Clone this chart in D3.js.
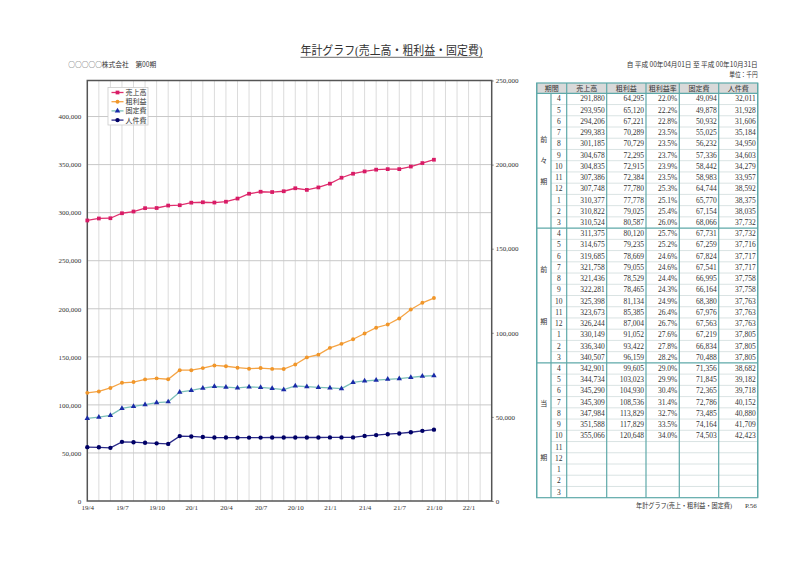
<!DOCTYPE html>
<html><head><meta charset="utf-8">
<script src="https://cdn.jsdelivr.net/npm/d3@7"></script>
<style>body{margin:0;background:#fff}svg{display:block}text{font-family:"Liberation Serif","Noto Sans CJK JP",serif;fill:#333}</style>
</head><body>
<svg id="c" width="800" height="566"></svg>
<script>
const months=["19/4","19/5","19/6","19/7","19/8","19/9","19/10","19/11","19/12","20/1","20/2","20/3","20/4","20/5","20/6","20/7","20/8","20/9","20/10","20/11","20/12","21/1","21/2","21/3","21/4","21/5","21/6","21/7","21/8","21/9","21/10","21/11","21/12","22/1","22/2","22/3"];
const xTickLabels=["19/4","19/7","19/10","20/1","20/4","20/7","20/10","21/1","21/4","21/7","21/10","22/1"];
const leftTicks=[0,50000,100000,150000,200000,250000,300000,350000,400000];
const rightTicks=[0,50000,100000,150000,200000,250000];
const sales=[291880,293950,294206,299383,301185,304678,304835,307386,307748,310377,310822,310524,311375,314675,319685,321758,321436,322281,325398,323673,326244,330149,336340,340507,342901,344734,345290,345309,347984,351588,355066];
const gross=[64295,65120,67221,70289,70729,72295,72915,72384,77780,77778,79025,80587,80120,79235,78669,79055,78529,78465,81134,85385,87004,91052,93422,96159,99605,103023,104930,108536,113829,117829,120648];
const margin=["22.0%","22.2%","22.8%","23.5%","23.5%","23.7%","23.9%","23.5%","25.3%","25.1%","25.4%","26.0%","25.7%","25.2%","24.6%","24.6%","24.4%","24.3%","24.9%","26.4%","26.7%","27.6%","27.8%","28.2%","29.0%","29.9%","30.4%","31.4%","32.7%","33.5%","34.0%"];
const fixedCost=[49094,49878,50932,55025,56232,57336,58442,58983,64744,65770,67154,68066,67731,67259,67824,67541,66995,66164,68380,67976,67563,67219,66834,70488,71356,71845,72365,72786,73485,74164,74503];
const labor=[32011,31928,31606,35184,34950,34603,34279,33957,38592,38375,38035,37732,37732,37716,37717,37717,37758,37758,37763,37763,37763,37805,37805,37805,38682,39182,39718,40152,40880,41709,42423];
const rowMonths=["4","5","6","7","8","9","10","11","12","1","2","3"];
const groups=[{chars:["前","々","期"],gap:21},{chars:["前","期"],gap:52},{chars:["当","期"],gap:54}];
const headers=["期間","売上高","粗利益","粗利益率","固定費","人件費"];
const seriesNames=["売上高","粗利益","固定費","人件費"];

const svg=d3.select("#c");
const fmt=d3.format(",");
const L=87.3,R=491.7,T=80.5,B=501;
const x=d3.scalePoint().domain(months).range([L,R]).padding(0);
const yL=d3.scaleLinear().domain([0,437500]).range([B,T]);
const yR=d3.scaleLinear().domain([0,250000]).range([B,T]);
const JP="Noto Sans CJK JP, sans-serif";

// header texts
svg.append("text").attr("x",300.5).attr("y",55).attr("font-size",12).attr("textLength",182).attr("lengthAdjust","spacingAndGlyphs").text("年計グラフ(売上高・粗利益・固定費)");
svg.append("line").attr("x1",300.5).attr("x2",483).attr("y1",57.3).attr("y2",57.3).attr("stroke","#444").attr("stroke-width",0.8);
svg.append("text").attr("x",68.3).attr("y",67).attr("font-size",7).style("font-family",JP).attr("textLength",88).attr("lengthAdjust","spacingAndGlyphs").text("○○○○○株式会社　第00期");
svg.append("text").attr("x",757.7).attr("y",67).attr("font-size",7).style("font-family",JP).attr("text-anchor","end").attr("textLength",131).attr("lengthAdjust","spacingAndGlyphs").text("自 平成 00年04月01日 至 平成 00年10月31日");
svg.append("text").attr("x",757.7).attr("y",77).attr("font-size",7).attr("text-anchor","end").attr("textLength",28.5).attr("lengthAdjust","spacingAndGlyphs").text("単位：千円");
svg.append("text").attr("x",636).attr("y",507.5).attr("font-size",7).attr("textLength",96).attr("lengthAdjust","spacingAndGlyphs").text("年計グラフ(売上・粗利益・固定費)");
svg.append("text").attr("x",745).attr("y",507.5).attr("font-size",7).text("P.56");

// grid
const g=svg.append("g");
g.selectAll(".vg").data(months.slice(1,-1)).join("line").attr("x1",d=>x(d)).attr("x2",d=>x(d)).attr("y1",T).attr("y2",B).attr("stroke","#dcdcdc").attr("stroke-width",1);
g.selectAll(".hg").data(leftTicks.slice(1)).join("line").attr("x1",L).attr("x2",R).attr("y1",d=>yL(d)).attr("y2",d=>yL(d)).attr("stroke","#c8c8c8").attr("stroke-width",1);

// axes
const ax=svg.append("g").attr("transform",`translate(${L},0)`).call(d3.axisLeft(yL).tickValues(leftTicks).tickFormat(fmt).tickSize(0).tickPadding(6));
const ar=svg.append("g").attr("transform",`translate(${R},0)`).call(d3.axisRight(yR).tickValues(rightTicks).tickFormat(fmt).tickSize(2).tickPadding(2));
const ab=svg.append("g").attr("transform",`translate(0,${B})`).call(d3.axisBottom(x).tickValues(xTickLabels).tickSize(0).tickPadding(4));
[ax,ar,ab].forEach(a=>{a.select(".domain").remove();a.selectAll("text").attr("font-size",7).attr("fill","#444").style("font-family","Liberation Serif, serif");a.selectAll("line").attr("stroke","#888");});

svg.append("rect").attr("x",L).attr("y",T).attr("width",R-L).attr("height",B-T).attr("fill","none").attr("stroke","#555").attr("stroke-width",1.5);

// series
const styles=[
 {data:sales,y:yL,line:"#e0306f",mk:"#d81b66",sym:d3.symbolSquare,size:14},
 {data:gross,y:yR,line:"#f5a445",mk:"#f0962a",sym:d3.symbolCircle,size:12},
 {data:fixedCost,y:yR,line:"#7cc0b8",mk:"#1a2aa8",sym:d3.symbolTriangle,size:13},
 {data:labor,y:yR,line:"#2a2a88",mk:"#000066",sym:d3.symbolCircle,size:15}
];
styles.forEach(s=>{
  const line=d3.line().x((d,i)=>x(months[i])).y(d=>s.y(d));
  svg.append("path").datum(s.data).attr("d",line).attr("fill","none").attr("stroke",s.line).attr("stroke-width",1.3);
  svg.append("g").selectAll("path").data(s.data).join("path")
    .attr("transform",(d,i)=>`translate(${x(months[i])},${s.y(d)})`)
    .attr("d",d3.symbol(s.sym,s.size)).attr("fill",s.mk);
});

// legend
const lg=svg.append("g");
lg.append("rect").attr("x",108).attr("y",87.5).attr("width",40).attr("height",37.5).attr("fill","#fff").attr("stroke","#ccc").attr("stroke-width",0.8);
seriesNames.forEach((n,i)=>{
  const yy=92.5+i*9.2, s=styles[i];
  lg.append("line").attr("x1",111.5).attr("x2",123.5).attr("y1",yy).attr("y2",yy).attr("stroke",s.line).attr("stroke-width",1.3);
  lg.append("path").attr("transform",`translate(117.5,${yy})`).attr("d",d3.symbol(s.sym,s.size)).attr("fill",s.mk);
  lg.append("text").attr("x",125.5).attr("y",yy+2.5).attr("font-size",7).text(n);
});

// table
const colX=[536.7,551,566.7,606.7,646,679.3,718.7,757.7];
const hTop=83,hBot=93.3,tBot=497.7;
const nRows=36;
const ry=d3.scaleLinear().domain([0,nRows]).range([hBot,tBot]);
const tb=svg.append("g");
const teal="#5ea9a9";
tb.append("rect").attr("x",colX[0]).attr("y",hTop).attr("width",colX[7]-colX[0]).attr("height",hBot-hTop).attr("fill","#d9d9d9");
d3.range(1,nRows).filter(i=>i%12!==0).forEach(i=>{
  tb.append("line").attr("x1",colX[1]).attr("x2",colX[7]).attr("y1",ry(i)).attr("y2",ry(i)).attr("stroke","#d0dcdc").attr("stroke-width",0.8);
});
[0,12,24].forEach(i=>tb.append("line").attr("x1",colX[0]).attr("x2",colX[7]).attr("y1",ry(i)).attr("y2",ry(i)).attr("stroke",teal).attr("stroke-width",1.2));
colX.forEach((cx,j)=>{
  tb.append("line").attr("x1",cx).attr("x2",cx).attr("y1",j===1?hBot:hTop).attr("y2",tBot).attr("stroke",teal).attr("stroke-width",1.2);
});
tb.append("rect").attr("x",colX[0]).attr("y",hTop).attr("width",colX[7]-colX[0]).attr("height",tBot-hTop).attr("fill","none").attr("stroke",teal).attr("stroke-width",1.2);
const hc=[(colX[0]+colX[2])/2,(colX[2]+colX[3])/2,(colX[3]+colX[4])/2,(colX[4]+colX[5])/2,(colX[5]+colX[6])/2,(colX[6]+colX[7])/2];
headers.forEach((h,j)=>tb.append("text").attr("x",hc[j]).attr("y",(hTop+hBot)/2+2.5).attr("font-size",7).attr("text-anchor","middle").text(h));
groups.forEach((gr,k)=>{
  const cy=(ry(k*12)+ry(k*12+12))/2, n=gr.chars.length;
  gr.chars.forEach((c,m)=>{
    tb.append("text").attr("x",(colX[0]+colX[1])/2).attr("y",cy+(m-(n-1)/2)*gr.gap+2.5).attr("font-size",7).attr("text-anchor","middle").text(c);
  });
});
for(let i=0;i<nRows;i++){
  const yy=(ry(i)+ry(i+1))/2+2.5;
  tb.append("text").attr("x",(colX[1]+colX[2])/2).attr("y",yy).attr("font-size",7.5).attr("text-anchor","middle").text(rowMonths[i%12]);
  if(i<sales.length){
    const vals=[fmt(sales[i]),fmt(gross[i]),margin[i],fmt(fixedCost[i]),fmt(labor[i])];
    vals.forEach((v,j)=>tb.append("text").attr("x",colX[j+3]-2).attr("y",yy).attr("font-size",7.5).attr("text-anchor","end").text(v));
  }
}
</script>
</body></html>
